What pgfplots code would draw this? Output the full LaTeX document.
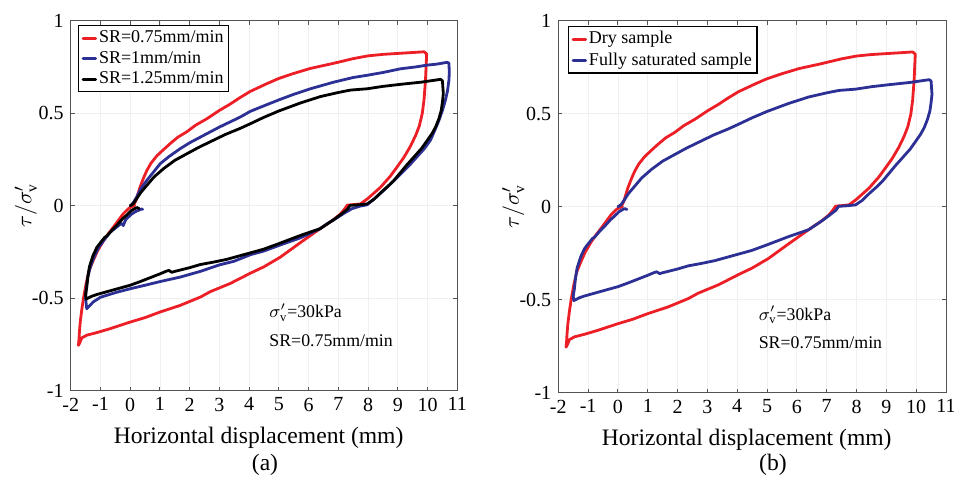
\documentclass[border=0pt]{standalone}
\usepackage{pgfplots}
\usepackage{pgfplotstable}
\pgfplotsset{compat=1.18}
\usepackage{fontspec}
\setmainfont{Liberation Serif}
\definecolor{cred}{RGB}{236,30,38}
\definecolor{cblue}{RGB}{44,48,148}

\pgfplotstableread{
x y
0.11 0.0
0.2 0.03
0.33 0.10
0.45 0.15
0.56 0.19
0.7 0.23
0.9 0.27
1.1 0.30
1.34 0.335
1.6 0.37
1.91 0.40
2.2 0.435
2.58 0.47
3.0 0.515
3.37 0.55
3.7 0.585
4.04 0.618
4.6 0.66
5.0 0.688
5.5 0.715
6.06 0.742
6.85 0.77
7.5 0.795
8.0 0.81
8.5 0.818
9.09 0.824
9.5 0.828
9.88 0.832
9.97 0.82
9.95 0.75
9.93 0.677
9.88 0.57
9.82 0.497
9.72 0.43
9.6 0.38
9.42 0.32
9.2 0.26
9.0 0.215
8.75 0.16
8.42 0.10
8.0 0.04
7.75 0.01
7.52 0.006
7.3 0.003
7.2 -0.02
7.07 -0.045
6.8 -0.08
6.39 -0.124
5.72 -0.2
5.05 -0.278
4.5 -0.33
4.04 -0.365
3.37 -0.42
2.69 -0.465
2.36 -0.494
1.68 -0.539
1.0 -0.575
0.5 -0.605
0.0 -0.629
-0.68 -0.665
-1.1 -0.685
-1.46 -0.70
-1.63 -0.715
-1.69 -0.74
-1.74 -0.755
-1.72 -0.72
-1.71 -0.69
-1.68 -0.63
-1.63 -0.565
-1.57 -0.5
-1.48 -0.42
-1.38 -0.35
-1.24 -0.295
-1.1 -0.245
-0.9 -0.19
-0.75 -0.155
-0.56 -0.115
-0.4 -0.08
-0.23 -0.043
-0.06 -0.016
0.05 -0.005
0.15 0.0
}\redtab

\pgfplotstableread{
x y
0.02 0.0
0.1 0.015
0.22 0.047
0.35 0.09
0.56 0.137
0.8 0.185
1.01 0.227
1.3 0.265
1.68 0.308
2.0 0.34
2.47 0.38
3.0 0.425
3.7 0.479
4.04 0.51
4.5 0.54
5.0 0.572
5.5 0.602
6.06 0.632
6.85 0.668
7.5 0.693
7.97 0.705
8.5 0.72
9.09 0.74
9.6 0.75
9.99 0.76
10.3 0.765
10.66 0.775
10.72 0.77
10.73 0.72
10.72 0.68
10.67 0.62
10.6 0.57
10.5 0.515
10.38 0.46
10.25 0.41
10.1 0.355
9.9 0.31
9.65 0.265
9.4 0.22
9.09 0.17
8.8 0.125
8.53 0.083
8.3 0.05
8.08 0.02
7.97 0.005
7.74 -0.002
7.46 -0.016
7.2 -0.04
6.96 -0.065
6.6 -0.1
6.39 -0.124
5.72 -0.174
5.0 -0.215
4.5 -0.245
4.04 -0.265
3.5 -0.3
3.0 -0.32
2.36 -0.355
1.68 -0.386
1.01 -0.41
0.5 -0.43
0.0 -0.449
-0.5 -0.47
-1.0 -0.495
-1.24 -0.52
-1.46 -0.557
-1.5 -0.5
-1.48 -0.45
-1.43 -0.39
-1.34 -0.33
-1.2 -0.27
-1.06 -0.225
-0.9 -0.19
-0.68 -0.145
-0.45 -0.115
-0.3 -0.095
-0.23 -0.107
-0.15 -0.075
0.05 -0.045
0.2 -0.03
0.39 -0.018
0.42 -0.02
}\bluetab

\pgfplotstableread{
x y
0.0 0.0
0.1 0.01
0.22 0.038
0.35 0.07
0.56 0.11
0.8 0.155
1.12 0.2
1.5 0.245
1.91 0.281
2.3 0.315
2.75 0.35
3.2 0.385
3.7 0.418
4.04 0.443
4.5 0.478
5.0 0.512
5.72 0.555
6.4 0.59
7.0 0.612
7.41 0.625
7.97 0.632
8.5 0.645
9.09 0.656
9.8 0.668
10.44 0.683
10.5 0.675
10.53 0.605
10.5 0.56
10.46 0.515
10.38 0.47
10.27 0.425
10.15 0.39
9.99 0.353
9.8 0.31
9.54 0.263
9.3 0.22
8.87 0.137
8.7 0.11
8.42 0.07
8.2 0.035
7.97 0.01
7.7 0.005
7.4 0.002
7.3 -0.02
7.1 -0.045
6.85 -0.075
6.39 -0.124
5.72 -0.161
5.0 -0.205
4.49 -0.235
4.04 -0.255
3.7 -0.27
3.25 -0.29
2.8 -0.305
2.36 -0.318
2.0 -0.335
1.5 -0.355
1.4 -0.36
1.3 -0.35
1.2 -0.355
1.01 -0.368
0.34 -0.41
0.0 -0.43
-0.45 -0.45
-1.12 -0.48
-1.3 -0.49
-1.48 -0.505
-1.5 -0.48
-1.46 -0.44
-1.42 -0.38
-1.37 -0.33
-1.25 -0.27
-1.12 -0.225
-0.95 -0.19
-0.85 -0.17
-0.79 -0.165
-0.6 -0.13
-0.45 -0.106
-0.25 -0.07
-0.11 -0.05
0.05 -0.025
0.22 -0.01
0.3 -0.015
}\blacktab

\pgfplotsset{myax/.style={
  scale only axis,
  xmin=-2,xmax=11,ymin=-1,ymax=1,
  xtick={-2,-1,0,1,2,3,4,5,6,7,8,9,10,11},
  xticklabels={-2,-1,0,1,2,3,4,5,6,7,8,9,10,11},
  ytick={-1,-0.5,0,0.5,1},
  yticklabels={-1,-0.5,0,0.5,1},
  grid=major,
  grid style={gray!12, line width=0.4pt},
  axis line style={gray!65!black, line width=0.5pt},
  tick style={gray!65!black, line width=0.5pt},
  major tick length=2pt, tick align=inside,
  ticklabel style={font=\fontsize{10}{12}\selectfont},
  xlabel={Horizontal displacement (mm)},
  xlabel style={font=\fontsize{11.8}{14}\selectfont, at={(axis description cs:0.486,-0.128)}, anchor=center},
  ylabel={$\tau/\sigma'_{\mathrm{v}}$},
  ylabel style={font=\fontsize{11}{13}\selectfont, at={(axis description cs:-0.116,0.5)}, anchor=center},
  every axis plot/.append style={line width=1.4pt, line join=round, line cap=round},
  legend cell align=left,
  legend style={font=\fontsize{9}{10.6}\selectfont, draw=black, line width=0.6pt, fill=white,
    inner xsep=1.5pt, inner ysep=0.5pt, row sep=-1.2pt, anchor=north west,
    nodes={inner xsep=1pt}},
  legend image code/.code={\draw[#1, line width=1.4pt] (0pt,0pt) -- (6.3pt,0pt);},
}}

\begin{document}
\begin{tikzpicture}
\useasboundingbox (0,0) rectangle (477pt,243pt);
\begin{axis}[myax, width=193.3pt, height=185pt, at={(35.35pt,47.65pt)}, anchor=south west,
  legend style={at={(axis description cs:0.019,0.988)}}]
\addplot[cred, no marks] table[x=x,y=y] {\redtab};
\addlegendentry{SR=0.75mm/min}
\addplot[cblue, no marks] table[x=x,y=y] {\bluetab};
\addlegendentry{SR=1mm/min}
\addplot[black, no marks] table[x=x,y=y] {\blacktab};
\addlegendentry{SR=1.25mm/min}
\node[anchor=west, font=\fontsize{8.9}{10}\selectfont, inner sep=0pt] at (axis cs:4.67,-0.577) {$\sigma'_{\mathrm{v}}$=30kPa};
\node[anchor=west, font=\fontsize{8.9}{10}\selectfont, inner sep=0pt] at (axis cs:4.67,-0.728) {SR=0.75mm/min};
\end{axis}
\begin{axis}[myax, width=193.85pt, height=186pt, at={(279.15pt,46.65pt)}, anchor=south west,
  legend style={at={(axis description cs:0.025,0.986)}}]
\addplot[cred, no marks] table[x=x,y=y] {\redtab};
\addlegendentry{Dry sample}
\addplot[cblue, no marks] table[x=x,y=y] {\blacktab};
\addlegendentry{Fully saturated sample}
\node[anchor=west, font=\fontsize{8.9}{10}\selectfont, inner sep=0pt] at (axis cs:4.71,-0.582) {$\sigma'_{\mathrm{v}}$=30kPa};
\node[anchor=west, font=\fontsize{8.9}{10}\selectfont, inner sep=0pt] at (axis cs:4.71,-0.733) {SR=0.75mm/min};
\end{axis}
\node[font=\fontsize{11.8}{14}\selectfont] at (132.5pt,10.5pt) {(a)};
\node[font=\fontsize{11.8}{14}\selectfont] at (386.5pt,10.5pt) {(b)};
\end{tikzpicture}
\end{document}
